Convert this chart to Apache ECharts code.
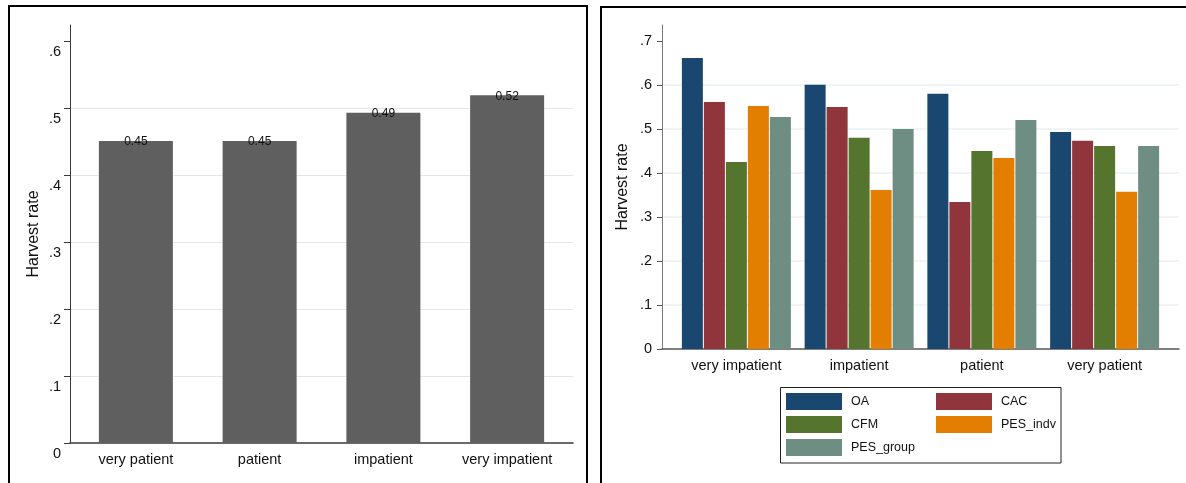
<!DOCTYPE html>
<html>
<head>
<meta charset="utf-8">
<script src="https://cdn.jsdelivr.net/npm/echarts@6/dist/echarts.min.js"></script>
<style>
html,body{margin:0;padding:0;background:#fff;}
#c{width:1186px;height:483px;}
</style>
</head>
<body>
<div id="c"></div>
<script>
// ---- data ----
var leftCategories = ['very patient', 'patient', 'impatient', 'very impatient'];
var leftHarvest = [0.451, 0.451, 0.493, 0.519];
var leftTicks = [0, 0.1, 0.2, 0.3, 0.4, 0.5, 0.6];
var leftTickLabels = ['0', '.1', '.2', '.3', '.4', '.5', '.6'];

var rightCategories = ['very impatient', 'impatient', 'patient', 'very patient'];
var seriesNames = ['OA', 'CAC', 'CFM', 'PES_indv', 'PES_group'];
var OA = [0.661, 0.600, 0.580, 0.493];
var CAC = [0.561, 0.550, 0.334, 0.473];
var CFM = [0.425, 0.480, 0.450, 0.461];
var PES_indv = [0.552, 0.361, 0.434, 0.357];
var PES_group = [0.527, 0.500, 0.520, 0.461];
var rightTicks = [0, 0.1, 0.2, 0.3, 0.4, 0.5, 0.6, 0.7];
var rightTickLabels = ['0', '.1', '.2', '.3', '.4', '.5', '.6', '.7'];
var legendColumn1 = ['OA', 'CFM', 'PES_group'];
var legendColumn2 = ['CAC', 'PES_indv'];

var seriesColors = ['#1a476f', '#90353b', '#55752f', '#e37e00', '#6e8e84'];
var FONT = '"Liberation Sans", Arial, sans-serif';

function labelFor(ticks, labels) {
  return function (v) {
    for (var i = 0; i < ticks.length; i++) {
      if (Math.abs(ticks[i] - v) < 1e-9) return labels[i];
    }
    return '';
  };
}

var chart = echarts.init(document.getElementById('c'), null, {renderer: 'canvas'});

var rightData = [OA, CAC, CFM, PES_indv, PES_group];
var rightSeries = seriesNames.map(function (n, i) {
  return {
    name: n,
    type: 'bar',
    xAxisIndex: 3,
    yAxisIndex: 3,
    data: rightData[i],
    barWidth: 21,
    barGap: '4.76%',
    itemStyle: {color: seriesColors[i]},
    emphasis: {disabled: true}
  };
});

function legendCol(names, left) {
  return {
    data: names,
    left: left, top: 393,
    orient: 'vertical',
    padding: 0,
    itemWidth: 56, itemHeight: 17, itemGap: 6,
    icon: 'rect',
    selectedMode: false,
    textStyle: {color: '#111', fontSize: 12.5, fontFamily: FONT, padding: [4, 0, 0, 4]}
  };
}

var G = '#e6e6e6';
var option = {
  animation: false,
  backgroundColor: '#fff',
  textStyle: {fontFamily: FONT},
  grid: [
    {left: 70, top: 25, width: 503, height: 418, outerBoundsMode: 'none', containLabel: false},
    {left: 74, top: 25, width: 495, height: 418, outerBoundsMode: 'none', containLabel: false},
    {left: 662, top: 25, width: 517, height: 324, outerBoundsMode: 'none', containLabel: false},
    {left: 675, top: 25, width: 491, height: 324, outerBoundsMode: 'none', containLabel: false}
  ],
  xAxis: [
    {gridIndex: 0, type: 'category', data: leftCategories,
     axisLine: {show: true, lineStyle: {color: '#3a3a3a', width: 1.5}},
     axisTick: {show: false}, axisLabel: {show: false}, splitLine: {show: false}},
    {gridIndex: 1, type: 'category', data: leftCategories,
     axisLine: {show: false}, axisTick: {show: false},
     axisLabel: {show: true, color: '#111', fontSize: 14.5, fontFamily: FONT, margin: 9, interval: 0},
     splitLine: {show: false}},
    {gridIndex: 2, type: 'category', data: rightCategories,
     axisLine: {show: true, lineStyle: {color: '#555', width: 1.5}},
     axisTick: {show: false}, axisLabel: {show: false}, splitLine: {show: false}},
    {gridIndex: 3, type: 'category', data: rightCategories,
     axisLine: {show: false}, axisTick: {show: false},
     axisLabel: {show: true, color: '#111', fontSize: 14.5, fontFamily: FONT, margin: 9, interval: 0},
     splitLine: {show: false}}
  ],
  yAxis: [
    {gridIndex: 0, type: 'value', min: 0, max: 0.624, interval: 0.1,
     name: 'Harvest rate', nameLocation: 'middle', nameGap: 28, nameRotate: 90,
     nameTextStyle: {color: '#111', fontSize: 16, fontFamily: FONT},
     axisLine: {show: true, lineStyle: {color: '#3a3a3a', width: 1}},
     axisTick: {show: true, length: 6, customValues: leftTicks, lineStyle: {color: '#3a3a3a'}},
     axisLabel: {show: true, customValues: leftTicks, formatter: labelFor(leftTicks, leftTickLabels),
       color: '#111', fontSize: 14.5, fontFamily: FONT, margin: 9, verticalAlign: 'top', padding: [3, 0, 0, 0]},
     splitLine: {show: true, showMinLine: false, showMaxLine: false,
       lineStyle: {color: [G, G, G, G, G, 'rgba(0,0,0,0)'], width: 1}}},
    {gridIndex: 1, type: 'value', min: 0, max: 0.624, show: false, splitLine: {show: false}},
    {gridIndex: 2, type: 'value', min: 0, max: 0.736, interval: 0.1,
     name: 'Harvest rate', nameLocation: 'middle', nameGap: 31, nameRotate: 90,
     nameTextStyle: {color: '#111', fontSize: 16, fontFamily: FONT},
     axisLine: {show: true, lineStyle: {color: '#7a7a7a', width: 1}},
     axisTick: {show: true, length: 5, customValues: rightTicks, lineStyle: {color: '#555'}},
     axisLabel: {show: true, customValues: rightTicks, formatter: labelFor(rightTicks, rightTickLabels),
       color: '#111', fontSize: 14.5, fontFamily: FONT, margin: 10},
     splitLine: {show: true, showMinLine: false, showMaxLine: false, lineStyle: {color: '#eaf1f1', width: 1.5}}},
    {gridIndex: 3, type: 'value', min: 0, max: 0.736, show: false, splitLine: {show: false}}
  ],
  legend: [legendCol(legendColumn1, 786), legendCol(legendColumn2, 936)],
  graphic: [
    {type: 'rect', shape: {x: 9, y: 6, width: 578, height: 520}, style: {fill: 'none', stroke: '#000', lineWidth: 2}, z: 100},
    {type: 'rect', shape: {x: 601, y: 7, width: 620, height: 520}, style: {fill: 'none', stroke: '#000', lineWidth: 2}, z: 100},
    {type: 'rect', shape: {x: 780.5, y: 387.5, width: 280.5, height: 75.5}, style: {fill: 'none', stroke: '#222', lineWidth: 1}, z: 100}
  ],
  series: [
    {
      name: 'Harvest rate',
      type: 'bar',
      xAxisIndex: 1,
      yAxisIndex: 1,
      data: leftHarvest,
      barWidth: 74,
      itemStyle: {color: '#5f5f5f'},
      emphasis: {disabled: true},
      label: {
        show: true, position: 'top', distance: -7,
        formatter: function (p) { return p.value.toFixed(2); },
        color: '#111', fontSize: 12, fontFamily: FONT
      }
    }
  ].concat(rightSeries)
};

chart.setOption(option);
</script>
</body>
</html>
